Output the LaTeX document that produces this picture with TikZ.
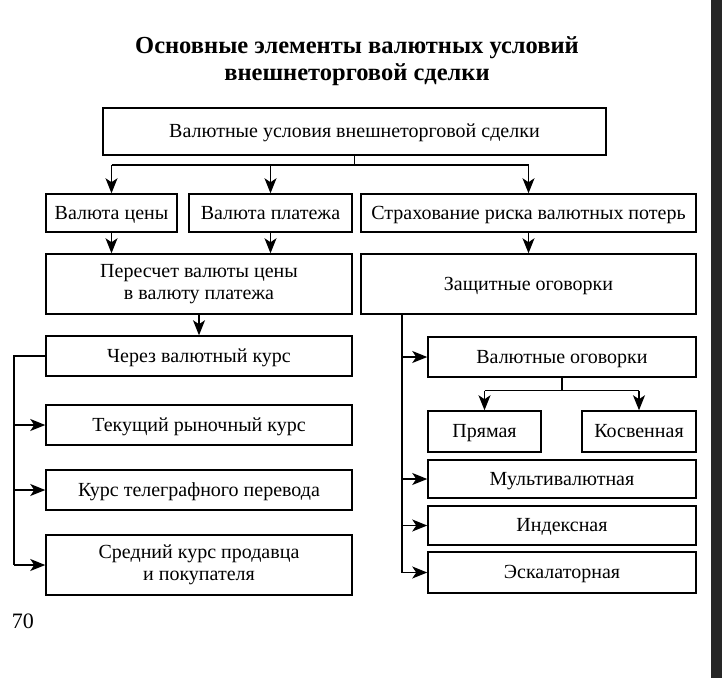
\documentclass[tikz,border=0pt]{standalone}
\usepackage{fontspec}
\setmainfont{Liberation Serif}
\usetikzlibrary{arrows.meta}
\begin{document}
\begin{tikzpicture}[x={(1pt,0)},y={(0,-1pt)},
  boxbase/.style={draw=black,line width=1.5pt,rectangle,inner sep=2pt,align=center,
    font=\fontsize{20}{22}\selectfont},
  box/.style={boxbase,text height=15pt,text depth=3pt},
  box2/.style={boxbase},
  conn/.style={line width=1.2pt},
  arr/.style={line width=1.2pt,-{Stealth[length=15pt,width=12pt,inset=4pt]}},
  ttl/.style={align=center,font=\fontsize{24.5}{27}\selectfont\bfseries}]
\useasboundingbox (0,0) rectangle (722,678);
\fill[black!85] (711,0) rectangle (722,678);
\node[ttl] (title) at (357,61) {Основные элементы валютных условий\\внешнеторговой сделки};
\node[box,minimum width=503pt,minimum height=47pt] (top) at (354.5,131.5) {Валютные условия внешнеторговой сделки};
\node[box,minimum width=131pt,minimum height=38pt] (valc) at (111.5,213) {Валюта цены};
\node[box,minimum width=163pt,minimum height=38pt] (valp) at (270.5,213) {Валюта платежа};
\node[box,minimum width=335pt,minimum height=38pt] (strah) at (528.5,213) {Страхование риска валютных потерь};
\node[box2,minimum width=306pt,minimum height=60pt] (pers) at (199,284) {Пересчет валюты цены\\в валюту платежа};
\node[box,minimum width=335pt,minimum height=60pt] (zasch) at (528.5,284) {Защитные оговорки};
\node[box,minimum width=306pt,minimum height=40pt] (cherez) at (199,356) {Через валютный курс};
\node[box,minimum width=306pt,minimum height=40pt] (tek) at (199,425) {Текущий рыночный курс};
\node[box,minimum width=306pt,minimum height=40pt] (teleg) at (199,490) {Курс телеграфного перевода};
\node[box2,minimum width=306pt,minimum height=60pt] (sred) at (199,565) {Средний курс продавца\\и покупателя};
\node[box,minimum width=268pt,minimum height=40pt] (valog) at (562,357) {Валютные оговорки};
\node[box,minimum width=113pt,minimum height=41pt] (pryam) at (484.5,431.5) {Прямая};
\node[box,minimum width=114pt,minimum height=41pt] (kosv) at (639,431.5) {Косвенная};
\node[box,minimum width=268pt,minimum height=38pt] (multi) at (562,479) {Мультивалютная};
\node[box,minimum width=268pt,minimum height=39pt] (index) at (562,525.5) {Индексная};
\node[box,minimum width=268pt,minimum height=41pt] (eskal) at (562,572.5) {Эскалаторная};
\node[font=\fontsize{22}{24}\selectfont] (page) at (23,621) {70};
% top bus
\coordinate (bus) at (354.5,165);
\draw[conn] (top.south) -- (bus);
\draw[conn] (bus -| valc) -- (bus -| strah);
\draw[arr] (bus -| valc) -- (valc.north);
\draw[arr] (bus -| valp) -- (valp.north);
\draw[arr] (bus -| strah) -- (strah.north);
% second level
\draw[arr] (valc.south) -- (valc.south |- pers.north);
\draw[arr] (valp.south) -- (valp.south |- pers.north);
\draw[arr] (strah.south) -- (zasch.north);
\draw[arr] (pers.south) -- (cherez.north);
% left bus
\coordinate (lb) at (14,0);
\draw[conn] (cherez.west) -- (cherez.west -| lb) -- (sred.west -| lb);
\draw[arr] (tek.west -| lb) -- (tek.west);
\draw[arr] (teleg.west -| lb) -- (teleg.west);
\draw[arr] (sred.west -| lb) -- (sred.west);
% right bus
\coordinate (rb) at (402,0);
\draw[conn] (zasch.south -| rb) -- (eskal.west -| rb);
\draw[arr] (valog.west -| rb) -- (valog.west);
\draw[arr] (multi.west -| rb) -- (multi.west);
\draw[arr] (index.west -| rb) -- (index.west);
\draw[arr] (eskal.west -| rb) -- (eskal.west);
% valog split
\draw[conn] (valog.south) -- ++(0,13) coordinate (vb);
\draw[conn] (vb -| pryam) -- (vb -| kosv);
\draw[arr] (vb -| pryam) -- (pryam.north);
\draw[arr] (vb -| kosv) -- (kosv.north);
\end{tikzpicture}
\end{document}
